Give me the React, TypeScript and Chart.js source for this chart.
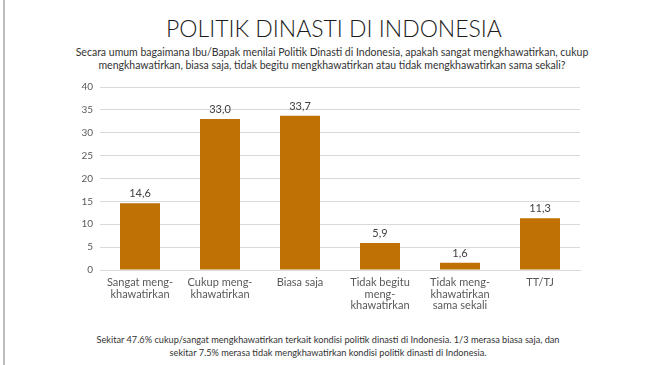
import React, { useEffect, useRef } from "react";
import { Chart, registerables } from "chart.js";

Chart.register(...registerables);

const categories: string[][] = [
  ["Sangat meng-", "khawatirkan"],
  ["Cukup meng-", "khawatirkan"],
  ["Biasa saja"],
  ["Tidak begitu", "meng-", "khawatirkan"],
  ["Tidak meng-", "khawatirkan", "sama sekali"],
  ["TT/TJ"],
];
const values: number[] = [14.6, 33.0, 33.7, 5.9, 1.6, 11.3];
const yTicks: number[] = [0, 5, 10, 15, 20, 25, 30, 35, 40];

const titleText = "POLITIK DINASTI DI INDONESIA";
const subtitleLines = [
  "Secara umum bagaimana Ibu/Bapak menilai Politik Dinasti di Indonesia, apakah sangat mengkhawatirkan, cukup",
  "mengkhawatirkan, biasa saja, tidak begitu mengkhawatirkan atau tidak mengkhawatirkan sama sekali?",
];
const footerLines = [
  "Sekitar 47.6% cukup/sangat mengkhawatirkan terkait kondisi politik dinasti di Indonesia. 1/3 merasa biasa saja, dan",
  "sekitar 7.5% merasa tidak mengkhawatirkan kondisi politik dinasti di Indonesia.",
];

const FONT = "'Lato', 'Open Sans', sans-serif";
const BAR_COLOR = "#bf7104";

const valueLabels = {
  id: "valueLabels",
  afterDatasetsDraw(chart: any) {
    const ctx = chart.ctx;
    const meta = chart.getDatasetMeta(0);
    ctx.save();
    ctx.font = `11px ${FONT}`;
    ctx.fillStyle = "#404040";
    ctx.textAlign = "center";
    ctx.textBaseline = "bottom";
    meta.data.forEach((bar: any, i: number) => {
      const v = values[i];
      ctx.fillText(v.toFixed(1).replace(".", ","), bar.x, bar.y - 4);
    });
    ctx.restore();
  },
};

export default function App() {
  const ref = useRef<HTMLCanvasElement | null>(null);

  useEffect(() => {
    if (!ref.current) return;
    const chart = new Chart(ref.current, {
      type: "bar",
      data: {
        labels: categories,
        datasets: [
          {
            data: values,
            backgroundColor: BAR_COLOR,
            barPercentage: 0.5,
            categoryPercentage: 1,
          },
        ],
      },
      options: {
        animation: false,
        responsive: false,
        maintainAspectRatio: false,
        layout: { padding: { left: 60, right: 70, top: 17, bottom: 0 } },
        plugins: {
          legend: { display: false },
          tooltip: { enabled: false },
          title: { display: false },
        },
        scales: {
          x: {
            grid: { display: false, drawTicks: false },
            border: { display: true, color: "#d9d9d9" },
            ticks: {
              color: "#595959",
              font: { family: FONT, size: 11, lineHeight: 1.05 },
              padding: 7,
              maxRotation: 0,
              autoSkip: false,
            },
            afterFit: (axis: any) => {
              axis.height = 50;
            },
          },
          y: {
            min: 0,
            max: 40,
            afterBuildTicks: (axis: any) => {
              axis.ticks = yTicks.map((v) => ({ value: v }));
            },
            grid: { color: "#d9d9d9", drawTicks: false },
            border: { display: false },
            ticks: {
              color: "#595959",
              font: { family: FONT, size: 10 },
              padding: 7,
            },
            afterFit: (axis: any) => {
              axis.width = 40;
            },
          },
        },
      },
      plugins: [valueLabels],
    });
    return () => chart.destroy();
  }, []);

  return (
    <div
      style={{
        position: "absolute",
        left: 0,
        top: 0,
        width: 650,
        height: 365,
        background: "#ffffff",
        overflow: "hidden",
        fontFamily: FONT,
      }}
    >
      <div
        style={{
          position: "absolute",
          left: 3,
          top: 0,
          width: 2,
          height: 365,
          background: "#bdbdbd",
        }}
      />
      <div
        style={{
          position: "absolute",
          left: 9,
          top: 13,
          width: 650,
          textAlign: "center",
          fontSize: 23,
          fontWeight: 300,
          color: "#1a1a1a",
          lineHeight: "30px",
          whiteSpace: "nowrap",
        }}
      >
        {titleText}
      </div>
      <div
        style={{
          position: "absolute",
          left: 7,
          top: 46,
          width: 650,
          textAlign: "center",
          fontSize: 10.5,
          color: "#333333",
          lineHeight: "13px",
          whiteSpace: "nowrap",
        }}
      >
        {subtitleLines.map((l, i) => (
          <div key={i}>{l}</div>
        ))}
      </div>
      <canvas
        ref={ref}
        width={650}
        height={250}
        style={{ position: "absolute", left: 0, top: 70, width: 650, height: 250 }}
      />
      <div
        style={{
          position: "absolute",
          left: 3,
          top: 333,
          width: 650,
          textAlign: "center",
          fontSize: 9.2,
          color: "#333333",
          lineHeight: "13px",
          whiteSpace: "nowrap",
        }}
      >
        {footerLines.map((l, i) => (
          <div key={i}>{l}</div>
        ))}
      </div>
    </div>
  );
}
